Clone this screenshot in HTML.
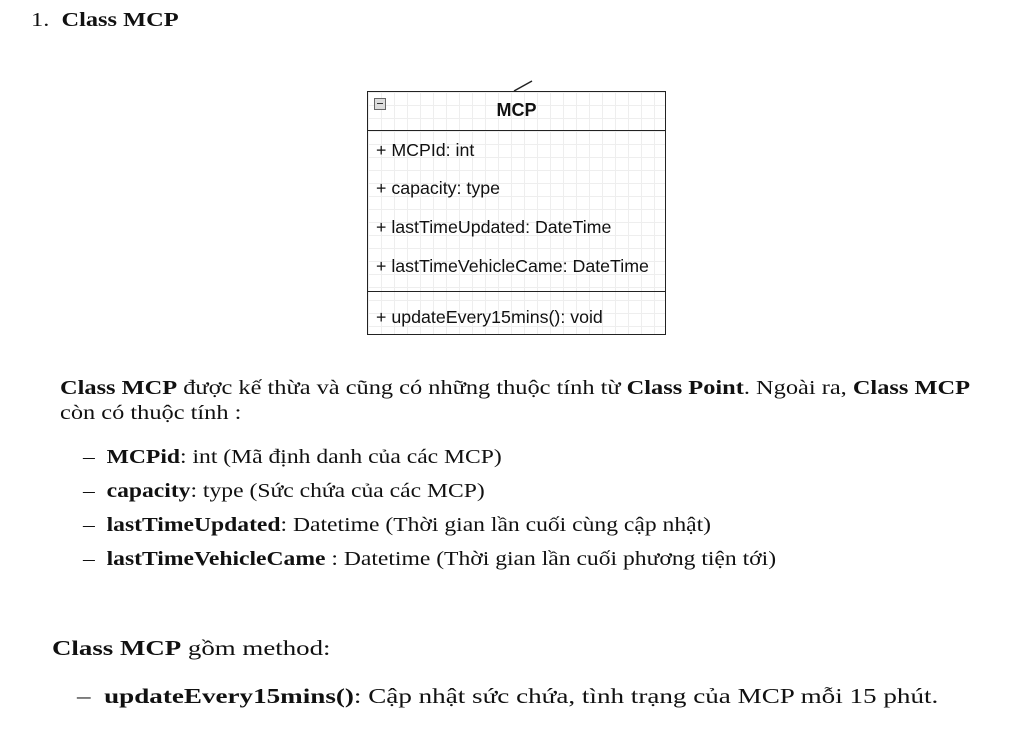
<!DOCTYPE html>
<html><head><meta charset="utf-8"><style>
body{margin:0;width:1027px;height:731px;background:#fff;position:relative;overflow:hidden;font-family:"Liberation Serif",serif;color:#111}
.t{position:absolute;white-space:nowrap;font-size:19.5px;transform:scaleX(1.25);transform-origin:0 0}
.u{transform:scaleX(1.21)}
.b{font-weight:bold}
.box{position:absolute;left:367px;top:91px;width:297px;height:242px;border:1.5px solid #222;background-color:#fff;
background-image:linear-gradient(#eee 1px,transparent 1px),linear-gradient(90deg,#eee 1px,transparent 1px);background-size:13px 13px}
.s{position:absolute;font-family:"Liberation Sans",sans-serif;font-size:17.8px;left:8px;white-space:nowrap}
.hl{position:absolute;left:0;right:0;border-top:1.5px solid #222}
</style></head><body>
<div class="t" style="left:31px;top:10px">1.&nbsp; <span class="b">Class MCP</span></div>
<svg style="position:absolute;left:500px;top:78px" width="40" height="16"><line x1="14" y1="13" x2="32" y2="3" stroke="#222" stroke-width="1.5"/></svg>
<div class="box">
<div style="position:absolute;left:6px;top:6px;width:10px;height:10px;border:1px solid #666;background:#ddd"><div style="position:absolute;left:2px;right:2px;top:4px;border-top:1.5px solid #333"></div></div>
<div class="s" style="left:0;right:0;text-align:center;top:8px;font-weight:bold;font-size:18px">MCP</div>
<div class="hl" style="top:38px"></div>
<div class="s" style="top:48px">+ MCPId: int</div>
<div class="s" style="top:86px">+ capacity: type</div>
<div class="s" style="top:125px">+ lastTimeUpdated: DateTime</div>
<div class="s" style="top:164px">+ lastTimeVehicleCame: DateTime</div>
<div class="hl" style="top:199px"></div>
<div class="s" style="top:215px">+ updateEvery15mins(): void</div>
</div>
<div class="t" style="left:60px;top:378px"><span class="b">Class MCP</span> được kế thừa và cũng có những thuộc tính từ <span class="b">Class Point</span>. Ngoài ra, <span class="b">Class MCP</span></div>
<div class="t" style="left:60px;top:403px">còn có thuộc tính :</div>
<div class="t u" style="left:83px;top:447px">– &nbsp;<span class="b">MCPid</span>: int (Mã định danh của các MCP)</div>
<div class="t u" style="left:83px;top:481px">– &nbsp;<span class="b">capacity</span>: type (Sức chứa của các MCP)</div>
<div class="t u" style="left:83px;top:515px">– &nbsp;<span class="b">lastTimeUpdated</span>: Datetime (Thời gian lần cuối cùng cập nhật)</div>
<div class="t u" style="left:83px;top:549px">– &nbsp;<span class="b">lastTimeVehicleCame</span> : Datetime (Thời gian lần cuối phương tiện tới)</div>
<div class="t" style="left:52px;top:636px;font-size:21px;transform:scaleX(1.28)"><span class="b">Class MCP</span> gồm method:</div>
<div class="t" style="left:77px;top:684px;font-size:21px;transform:scaleX(1.29)">– &nbsp;<span class="b">updateEvery15mins()</span>: Cập nhật sức chứa, tình trạng của MCP mỗi 15 phút.</div>
</body></html>
